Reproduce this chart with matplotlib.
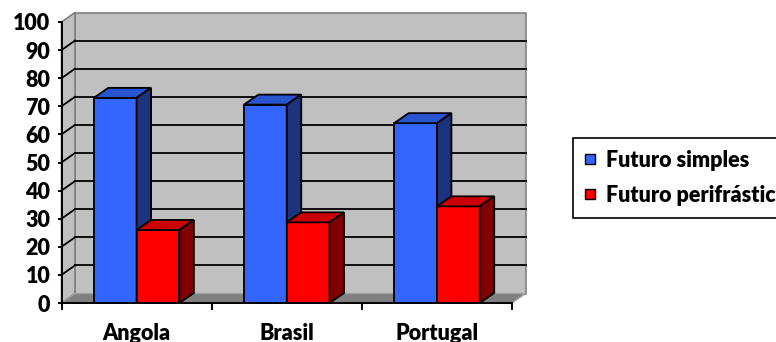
import matplotlib
matplotlib.use("Agg")
import matplotlib.pyplot as plt
from matplotlib.patches import Polygon, Rectangle
from matplotlib.lines import Line2D
import numpy as np

categories = ["Angola", "Brasil", "Portugal"]
series_names = ["Futuro simples", "Futuro perifrástico"]
futuro_simples = [73, 70.6, 64]
futuro_perifrastico = [26, 28.7, 34.4]
y_ticks = [0, 10, 20, 30, 40, 50, 60, 70, 80, 90, 100]

front_colors = ["#3366FF", "#FF0000"]
top_colors = ["#2A55D0", "#CC0000"]
side_colors = ["#1C3480", "#800000"]

plt.rcParams['font.family'] = ['Lato', 'DejaVu Sans']
FS = 15.5
FW = "heavy"

W, H = 776, 342
fig = plt.figure(figsize=(W / 100, H / 100), dpi=100)
ax = fig.add_axes([61.5 / W, (H - 303) / H, (512 - 61.5) / W, (303 - 22) / H])
ax.set_xlim(-0.5, 2.5)
ax.set_ylim(0, 100)
ax.patch.set_visible(False)

# pixel -> data conversion
p0 = ax.transData.transform((0, 0))
p1 = ax.transData.transform((1, 1))
ppx, ppy = p1[0] - p0[0], p1[1] - p0[1]
wdx, wdy = 13.5 / ppx, 9.5 / ppy   # wall depth
bdx, bdy = 14.5 / ppx, 10 / ppy    # bar depth

x0, x1 = -0.5, 2.5
# back wall
ax.add_patch(Rectangle((x0 + wdx, wdy), x1 - x0, 100, facecolor="#C0C0C0",
                       edgecolor="#808080", lw=1.2, clip_on=False, zorder=0))
# left side wall
ax.add_patch(Polygon([(x0, 0), (x0, 100), (x0 + wdx, 100 + wdy), (x0 + wdx, wdy)],
                     closed=True, facecolor="#C0C0C0", edgecolor="#808080", lw=1.2,
                     clip_on=False, zorder=0.5))
# floor
ax.add_patch(Polygon([(x0, 0), (x1, 0), (x1 + wdx, wdy), (x0 + wdx, wdy)],
                     closed=True, facecolor="#808080", edgecolor="#A0A0A0", lw=1.0,
                     clip_on=False, zorder=0.6))
# gridlines
for v in y_ticks[1:-1]:
    ax.add_line(Line2D([x0 + wdx, x1 + wdx], [v + wdy, v + wdy], color="black",
                       lw=1.3, clip_on=False, zorder=1))
    ax.add_line(Line2D([x0, x0 + wdx], [v, v + wdy], color="black",
                       lw=1.3, clip_on=False, zorder=1))

# bars
bw = 0.285
xs = np.arange(len(categories))
for si, vals in enumerate([futuro_simples, futuro_perifrastico]):
    z = 3 + si
    lefts = xs - bw if si == 0 else xs
    ax.bar(lefts, vals, width=bw, align='edge', color=front_colors[si],
           edgecolor="black", lw=1.3, zorder=z, label=series_names[si], clip_on=False)
    for l, v in zip(lefts, vals):
        r = l + bw
        ax.add_patch(Polygon([(l, v), (r, v), (r + bdx, v + bdy), (l + bdx, v + bdy)],
                             closed=True, facecolor=top_colors[si], edgecolor="black",
                             lw=1.3, zorder=z, clip_on=False))
        ax.add_patch(Polygon([(r, 0), (r, v), (r + bdx, v + bdy), (r + bdx, bdy)],
                             closed=True, facecolor=side_colors[si], edgecolor="black",
                             lw=1.3, zorder=z, clip_on=False))

# axes
for s in ["top", "right"]:
    ax.spines[s].set_visible(False)
for s in ["left", "bottom"]:
    ax.spines[s].set_linewidth(1.4)
    ax.spines[s].set_zorder(5)
ax.set_yticks(y_ticks)
ax.set_yticklabels([str(t) for t in y_ticks], fontsize=FS, fontweight=FW)
ax.tick_params(axis="y", direction="out", length=3, width=1.4, pad=5)
ax.set_xticks(xs)
ax.set_xticklabels(categories, fontsize=FS, fontweight=FW)
ax.set_xticks([-0.5, 0.5, 1.5, 2.5], minor=True)
ax.tick_params(axis="x", which="major", length=0, pad=14.5)
ax.tick_params(axis="x", which="minor", direction="out", length=5, width=1.4)

handles = [Line2D([], [], marker="s", linestyle="none", markersize=7.5,
                  markerfacecolor=c, markeredgecolor="black", markeredgewidth=1.0)
           for c in front_colors]
leg = fig.legend(handles, series_names, loc="upper left",
                 bbox_to_anchor=(573 / W, 1 - 138 / H),
                 prop={"size": FS, "weight": FW}, frameon=True, fancybox=False,
                 edgecolor="black", framealpha=1, borderpad=0.55, labelspacing=0.65,
                 handlelength=0.5, handletextpad=0.5, borderaxespad=0)
leg.get_frame().set_linewidth(1.2)

fig.savefig("out.png", dpi=100)
